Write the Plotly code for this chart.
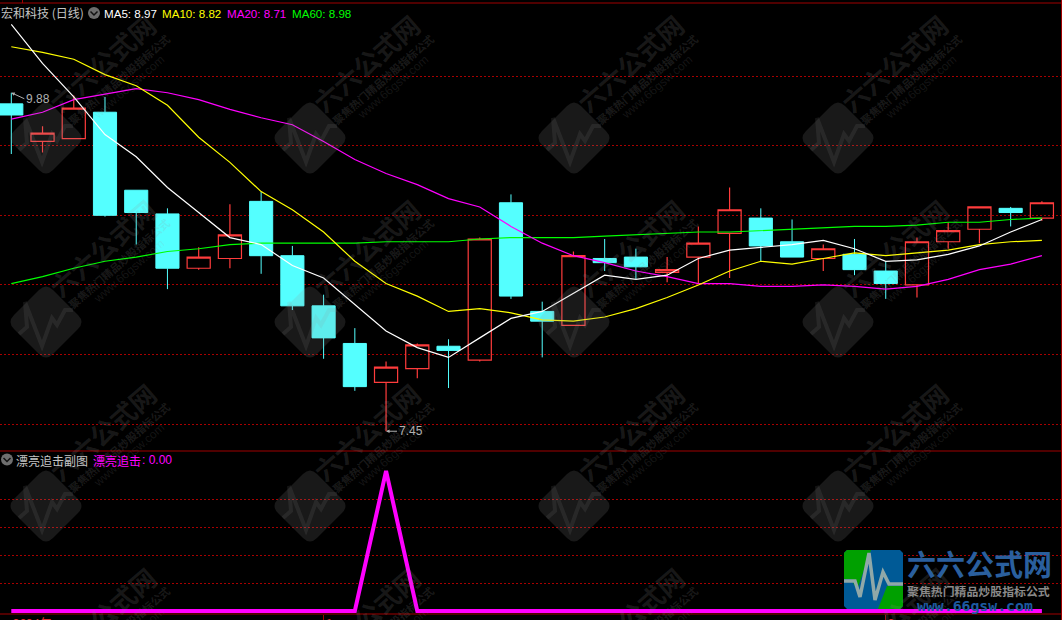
import plotly.graph_objects as go

W, H = 1062, 620
idx = list(range(34))
opens = [9.80,9.53,9.55,9.74,9.18,9.01,8.62,8.69,9.10,8.71,8.35,8.08,7.80,7.90,8.06,7.96,9.09,8.31,8.21,8.69,8.70,8.59,8.70,8.87,8.98,8.81,8.69,8.72,8.60,8.50,8.81,8.90,9.05,8.98]
highs = [9.88,9.64,9.86,9.85,9.18,9.05,8.77,9.08,9.17,8.78,8.43,8.19,7.95,8.08,8.11,8.84,9.15,8.38,8.74,8.83,8.76,8.70,8.92,9.20,9.05,8.97,8.79,8.83,8.67,8.84,8.95,9.06,9.06,9.10]
lows = [9.44,9.45,9.55,8.99,8.79,8.47,8.61,8.62,8.58,8.32,7.97,7.74,7.45,7.83,7.76,7.95,8.40,7.98,8.21,8.60,8.54,8.52,8.51,8.55,8.67,8.70,8.60,8.57,8.40,8.41,8.76,8.80,8.92,8.96]
closes = [9.72,9.59,9.77,9.00,9.02,8.62,8.70,8.86,8.71,8.35,8.12,7.77,7.91,8.07,8.03,8.83,8.42,8.24,8.71,8.66,8.63,8.61,8.80,9.04,8.78,8.70,8.76,8.61,8.51,8.81,8.89,9.06,9.02,9.09]
ma5 = [10.37,10.09,9.85,9.58,9.42,9.20,9.02,8.84,8.79,8.64,8.55,8.36,8.17,8.05,7.98,8.12,8.26,8.31,8.44,8.57,8.54,8.57,8.69,8.75,8.77,8.79,8.82,8.76,8.67,8.68,8.72,8.78,8.88,8.97]
ma10 = [10.21,10.17,10.12,10.01,9.93,9.79,9.56,9.38,9.17,9.04,8.88,8.67,8.51,8.42,8.31,8.33,8.30,8.25,8.24,8.27,8.33,8.41,8.50,8.60,8.67,8.65,8.69,8.73,8.71,8.73,8.75,8.79,8.81,8.82]
ma20 = [9.69,9.74,9.83,9.87,9.91,9.88,9.83,9.76,9.70,9.65,9.53,9.40,9.30,9.22,9.12,9.06,8.92,8.80,8.71,8.66,8.60,8.56,8.51,8.51,8.49,8.49,8.50,8.49,8.47,8.49,8.54,8.61,8.65,8.71]
ma60 = [8.51,8.56,8.62,8.67,8.70,8.74,8.76,8.79,8.80,8.80,8.80,8.80,8.81,8.81,8.81,8.83,8.84,8.84,8.84,8.85,8.86,8.87,8.88,8.88,8.89,8.90,8.91,8.92,8.92,8.93,8.95,8.95,8.97,8.98]
signal = [0,0,0,0,0,0,0,0,0,0,0,0,1,0,0,0,0,0,0,0,0,0,0,0,0,0,0,0,0,0,0,0,0,0]
price_grid = [10.0,9.5,9.0,8.5,8.0,7.5]
signal_grid = [0.2,0.4,0.6,0.8]
tick_idx = [0,10,28]
tick_labels = ["2024年","1","2"]

RED = "#ff3c3c"; CYAN = "#54ffff"; GRID = "#a80000"; DASH = "2px,2px"
CJK = "Noto Sans CJK SC"; LAT = "Liberation Sans"

def px(x): return x / W
def py(y): return 1 - y / H
def P(a, b): return f"{px(a):.5f},{py(b):.5f}"
def poly(points, close=True):
    s = "M" + " L".join(P(a, b) for a, b in points)
    return s + (" Z" if close else "")
def diamond(cx, cy, t=39, c=7):
    return ("M" + P(cx-t+c, cy-c) + " L" + P(cx-c, cy-t+c) + " Q" + P(cx, cy-t) + " " + P(cx+c, cy-t+c)
            + " L" + P(cx+t-c, cy-c) + " Q" + P(cx+t, cy) + " " + P(cx+t-c, cy+c)
            + " L" + P(cx+c, cy+t-c) + " Q" + P(cx, cy+t) + " " + P(cx-c, cy+t-c)
            + " L" + P(cx-t+c, cy+c) + " Q" + P(cx-t, cy) + " " + P(cx-t+c, cy-c) + " Z")

fig = go.Figure()
fig.add_trace(go.Candlestick(x=idx, open=opens, high=highs, low=lows, close=closes,
    increasing=dict(line=dict(color=RED, width=1.2), fillcolor="rgba(0,0,0,0)"),
    decreasing=dict(line=dict(color=CYAN, width=1), fillcolor=CYAN),
    whiskerwidth=0, xaxis="x", yaxis="y", name="K", showlegend=False))
for vals, col, nm in [(ma60,"#00ff00","MA60"),(ma20,"#ff00ff","MA20"),(ma10,"#ffff00","MA10"),(ma5,"#ffffff","MA5")]:
    fig.add_trace(go.Scatter(x=idx, y=vals, mode="lines", name=nm, showlegend=False,
                             line=dict(color=col, width=1.2), xaxis="x", yaxis="y"))
fig.add_trace(go.Scatter(x=idx, y=signal, mode="lines", name="漂亮追击", showlegend=False,
                         line=dict(color="#ff00ff", width=4), xaxis="x2", yaxis="y2"))

shapes, anns = [], []
def text(x, y, t, color, size=12, family=LAT, anchor="left", angle=0, vanchor="middle", **kw):
    anns.append(dict(x=px(x), y=py(y), xref="paper", yref="paper", text=t, showarrow=False,
                     xanchor=anchor, yanchor=vanchor, textangle=angle, align="left",
                     font=dict(color=color, size=size, family=family), **kw))

# watermarks
for cy in (138, 322, 506, 690):
    for cx in (46, 310, 574, 838):
        if cy < 600:
            shapes.append(dict(type="path", path=diamond(cx, cy), xref="paper", yref="paper",
                               fillcolor="rgba(150,150,150,0.17)", line=dict(width=0), layer="above"))
            z = [(cx-27,cy+12),(cx-19,cy+5),(cx-21,cy-20),(cx-4,cy+24),(cx+6,cy-4),(cx+11,cy+3),(cx+19,cy-12),(cx+27,cy-12)]
            shapes.append(dict(type="path", path=poly(z, False), xref="paper", yref="paper",
                               line=dict(width=4, color="rgba(150,150,150,0.13)"), layer="above"))
        text(cx+56, cy-75, "<b>六六公式网</b>", "rgba(150,150,150,0.17)", 26, CJK, "center", -41)
        text(cx+73, cy-59, "<b>聚焦热门精品炒股指标公式</b>", "rgba(150,150,150,0.18)", 10.8, CJK, "center", -41)
        text(cx+83, cy-51, "www.66gsw.com", "rgba(150,150,150,0.14)", 12, LAT, "center", -41)

# frame lines
for y in (3, 451, 614):
    shapes.append(dict(type="line", xref="paper", yref="paper", x0=0, x1=1, y0=py(y), y1=py(y),
                       line=dict(color="#a00000", width=1), layer="above"))
shapes.append(dict(type="line", xref="paper", yref="paper", x0=px(1061.5), x1=px(1061.5), y0=0, y1=1,
                   line=dict(color="#a00000", width=1), layer="above"))
shapes.append(dict(type="line", xref="paper", yref="paper", x0=px(22.5), x1=px(22.5), y0=py(0), y1=py(3),
                   line=dict(color="#a00000", width=1), layer="above"))

# header icons
for cx, cy in ((94, 13), (7, 459.5)):
    shapes.append(dict(type="circle", xref="paper", yref="paper", x0=px(cx-6), x1=px(cx+6), y0=py(cy+6), y1=py(cy-6),
                       fillcolor="#6e6e6e", line=dict(width=0), layer="above"))
    shapes.append(dict(type="path", xref="paper", yref="paper", path=poly([(cx-3.5,cy-1.5),(cx,cy+2),(cx+3.5,cy-1.5)], False),
                       line=dict(color="#111111", width=1.5), layer="above"))

# logo
lg = [(844,553),(847,550),(900,550),(903,553),(903,606),(900,609),(847,609),(844,606)]
shapes.append(dict(type="path", xref="paper", yref="paper", path=poly(lg), fillcolor="#005a96", line=dict(width=0), layer="above"))
shapes.append(dict(type="path", xref="paper", yref="paper", path=poly([(844,553),(847,550),(871,550),(857,590),(851,579),(844,579)]),
                   fillcolor="#00a000", line=dict(width=0), layer="above"))
shapes.append(dict(type="path", xref="paper", yref="paper", path=poly([(903,586),(903,606),(900,609),(878,609),(887,586)]),
                   fillcolor="#00a000", line=dict(width=0), layer="above"))
shapes.append(dict(type="path", xref="paper", yref="paper",
                   path=poly([(844,581),(855,581),(860,597),(869,553),(875,600),(883,572),(889,584),(903,584)], False),
                   line=dict(color="#90a8a8", width=3.5), layer="above"))

text(905, 563, "<b>六六公式网</b>", "#2a5f9e", 29, CJK)
text(905, 590, "<b>聚焦热门精品炒股指标公式</b>", "#8a8a8a", 11.9, CJK)
text(915, 605, "<b>www.66gsw.com</b>", "#1d5aa0", 14.8, "DejaVu Sans Mono")

# legend text
text(-1, 12.5, "宏和科技 (日线)", "#c4c4c4", 12, CJK)
text(102, 13, "MA5: 8.97", "#ffffff", 11.6, LAT)
text(160, 13, "MA10: 8.82", "#ffff00", 11.6, LAT)
text(225, 13, "MA20: 8.71", "#ff00ff", 11.6, LAT)
text(290, 13, "MA60: 8.98", "#00ff00", 11.6, LAT)
text(14, 460, "漂亮追击副图", "#c4c4c4", 12, CJK)
text(91, 460, "漂亮追击", "#ff00ff", 12, CJK)
text(140, 460, ": 0.00", "#ff00ff", 12, LAT)

# extreme markers
anns.append(dict(x=0, y=9.88, xref="x", yref="y", text="9.88", showarrow=True, ax=13, ay=6, arrowhead=2,
                 arrowsize=0.7, arrowwidth=1, arrowcolor="#b0b0b0", xanchor="left",
                 font=dict(color="#b0b0b0", size=12, family=LAT)))
anns.append(dict(x=12, y=7.45, xref="x", yref="y", text="7.45", showarrow=True, ax=11, ay=0, arrowhead=2,
                 arrowsize=0.7, arrowwidth=1, arrowcolor="#b0b0b0", xanchor="left",
                 font=dict(color="#b0b0b0", size=12, family=LAT)))

# date labels on the time axis (clipped by the window, as in the reference)
for i, t in zip(tick_idx, tick_labels):
    anns.append(dict(x=i, y=py(612), xref="x2", yref="paper", text=t, showarrow=False, xanchor="left", yanchor="top",
                     xshift=0, font=dict(color="#e03030", size=12, family=CJK)))

x_range = [-11.3/31.23, (W-11.3)/31.23]
fig.update_layout(
    width=W, height=H, margin=dict(l=0, r=0, t=0, b=0),
    paper_bgcolor="#000000", plot_bgcolor="#000000", showlegend=False, boxgap=0.26, boxgroupgap=0,
    xaxis=dict(domain=[0,1], range=x_range, anchor="y", showgrid=False, zeroline=False, showticklabels=False,
               ticks="", showline=False, rangeslider=dict(visible=False)),
    yaxis=dict(domain=[py(451), py(3)], range=[10-(451-76)/139.3, 10+(76-3)/139.3], tickvals=price_grid, showgrid=True,
               gridcolor=GRID, griddash=DASH, gridwidth=1, zeroline=False, showticklabels=False, ticks="", showline=False),
    xaxis2=dict(domain=[0,1], range=x_range, anchor="y2", showgrid=False, zeroline=False, showticklabels=False,
                tickvals=[10,28], ticks="outside", ticklen=6, tickcolor="#a00000", tickwidth=1, showline=False),
    yaxis2=dict(domain=[py(614), py(451)], range=[-3/140, (611-451)/140], tickvals=signal_grid, showgrid=True,
                gridcolor=GRID, griddash=DASH, gridwidth=1, zeroline=False, showticklabels=False, ticks="", showline=False),
    shapes=shapes, annotations=anns,
)
fig.write_html("out.html", config=dict(displayModeBar=False),
               post_script="document.body.style.margin='0';document.body.style.overflow='hidden';document.body.style.background='#000';")
